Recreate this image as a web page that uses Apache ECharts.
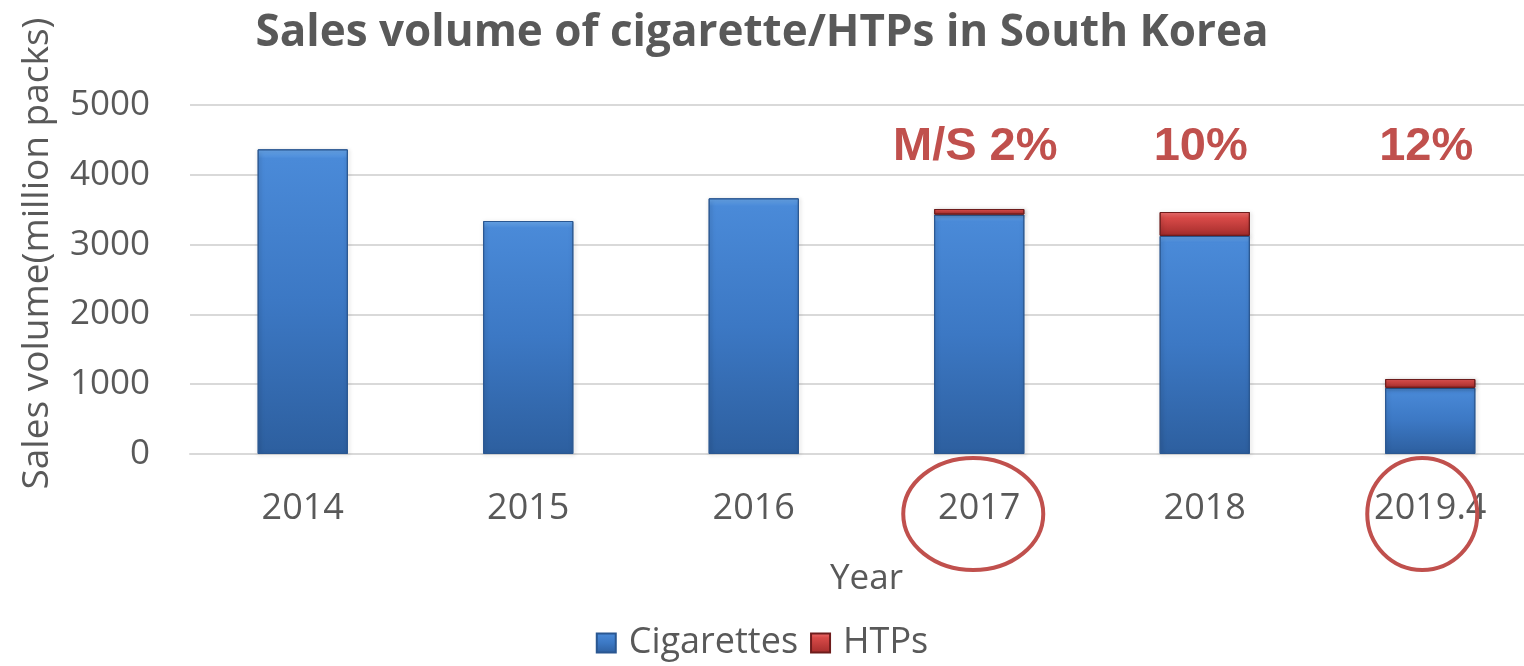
<!DOCTYPE html>
<html>
<head>
<meta charset="utf-8">
<title>Sales volume of cigarette/HTPs in South Korea</title>
<script src="https://cdn.jsdelivr.net/npm/echarts@6/dist/echarts.min.js"></script>
<style>
  html, body { margin: 0; padding: 0; background: #ffffff; }
  #chart { width: 1524px; height: 666px; }
</style>
</head>
<body>
<div id="chart"></div>
<script>
// Annual sales volume, million packs
const years = ['2014', '2015', '2016', '2017', '2018', '2019.4'];
const cigarettes = [4365, 3338, 3663, 3430, 3125, 948];
const htps = [0, 0, 0, 80, 342, 126];
const yTicks = [0, 1000, 2000, 3000, 4000, 5000];
// Years whose HTP market share is called out and circled
const highlighted = ['2017', '2018', '2019.4'];
const circled = ['2017', '2019.4'];
const shareLevel = 4400;

const textGray = '#595959';
const accentRed = '#c0504d';
const font = '"Open Sans", "Noto Sans", sans-serif';

const shareData = highlighted.map(function (y, k) {
  const i = years.indexOf(y);
  const pct = Math.round(htps[i] / (cigarettes[i] + htps[i]) * 100);
  return { value: [y, shareLevel], label: { formatter: (k === 0 ? 'M/S ' : '') + pct + '%' } };
});

const blueFill = new echarts.graphic.LinearGradient(0, 0, 0, 1, [
  { offset: 0, color: '#6aa9ee' },
  { offset: 0.03, color: '#4a8ad8' },
  { offset: 0.5, color: '#3c78c4' },
  { offset: 1, color: '#2d5f9f' }
]);
const redFill = new echarts.graphic.LinearGradient(0, 0, 0, 1, [
  { offset: 0, color: '#f07070' },
  { offset: 0.25, color: '#d84a48' },
  { offset: 1, color: '#a32c2b' }
]);

const chart = echarts.init(document.getElementById('chart'), null, { renderer: 'canvas' });

chart.setOption({
  animation: false,
  backgroundColor: '#ffffff',
  title: {
    text: 'Sales volume of cigarette/HTPs in South Korea',
    left: 'center',
    top: 6,
    textStyle: { fontFamily: font, fontSize: 44, fontWeight: 'bold', color: textGray }
  },
  legend: {
    bottom: 0,
    left: 'center',
    itemWidth: 19,
    itemHeight: 19,
    itemGap: 12,
    icon: 'rect',
    textStyle: { fontFamily: font, fontSize: 36, color: textGray, padding: [0, 0, 0, 8] },
    data: ['Cigarettes', 'HTPs']
  },
  // the plot runs past the right edge of the canvas
  grid: { left: 190, width: 1353, top: 105, bottom: 212, containLabel: false, outerBoundsMode: 'none' },
  xAxis: {
    type: 'category',
    data: years,
    name: 'Year',
    nameLocation: 'middle',
    nameGap: 108,
    nameTextStyle: { fontFamily: font, fontSize: 35, color: textGray },
    axisLine: { lineStyle: { color: '#d9d9d9', width: 2 } },
    axisTick: { show: false },
    axisLabel: { fontFamily: font, fontSize: 36, color: textGray, margin: 37 }
  },
  yAxis: {
    type: 'value',
    min: yTicks[0],
    max: yTicks[yTicks.length - 1],
    interval: 1000,
    name: 'Sales volume(million packs)',
    nameLocation: 'middle',
    nameGap: 134,
    nameTextStyle: { fontFamily: font, fontSize: 37, color: textGray, padding: [0, 0, 0, 52] },
    axisLine: { show: false },
    axisTick: { show: false },
    axisLabel: {
      fontFamily: font, fontSize: 35, color: textGray, margin: 40,
      formatter: function (v) { return String(v); }
    },
    splitLine: { lineStyle: { color: '#d9d9d9', width: 2 } }
  },
  series: [
    {
      name: 'Cigarettes',
      type: 'bar',
      stack: 'total',
      barWidth: '40%',
      data: cigarettes,
      itemStyle: {
        color: blueFill,
        borderColor: '#2a5791',
        borderWidth: 1,
        shadowColor: 'rgba(0,0,0,0.25)',
        shadowBlur: 4,
        shadowOffsetX: 1,
        shadowOffsetY: 1
      }
    },
    {
      name: 'HTPs',
      type: 'bar',
      stack: 'total',
      barWidth: '40%',
      // no HTP sales before 2017: leave those stacks empty
      data: htps.map(function (v) { return v > 0 ? v : '-'; }),
      itemStyle: {
        color: redFill,
        borderColor: '#6e1c1c',
        borderWidth: 1,
        shadowColor: 'rgba(0,0,0,0.25)',
        shadowBlur: 4,
        shadowOffsetX: 1,
        shadowOffsetY: 1
      }
    },
    {
      name: 'share',
      type: 'scatter',
      symbolSize: 0,
      silent: true,
      itemStyle: { opacity: 1 },
      data: shareData,
      label: {
        show: true,
        position: 'inside',
        offset: [-4, 0],
        fontFamily: 'Arial, "Liberation Sans", sans-serif',
        fontSize: 47,
        fontWeight: 'bold',
        color: accentRed
      }
    }
  ]
});

// Outline the circled year labels
function drawRings() {
  const yPix = chart.convertToPixel({ gridIndex: 0 }, [0, 0])[1];
  const elements = circled.map(function (y) {
    const x = chart.convertToPixel({ xAxisIndex: 0 }, y);
    const wide = y.length > 4;
    return {
      type: 'ellipse',
      shape: { cx: x - (wide ? 8 : 6), cy: yPix + 60, rx: wide ? 55 : 70, ry: 56 },
      style: { fill: 'none', stroke: accentRed, lineWidth: 4 },
      silent: true,
      z: 10
    };
  });
  chart.setOption({ graphic: { elements: elements } });
}
drawRings();
</script>
</body>
</html>
